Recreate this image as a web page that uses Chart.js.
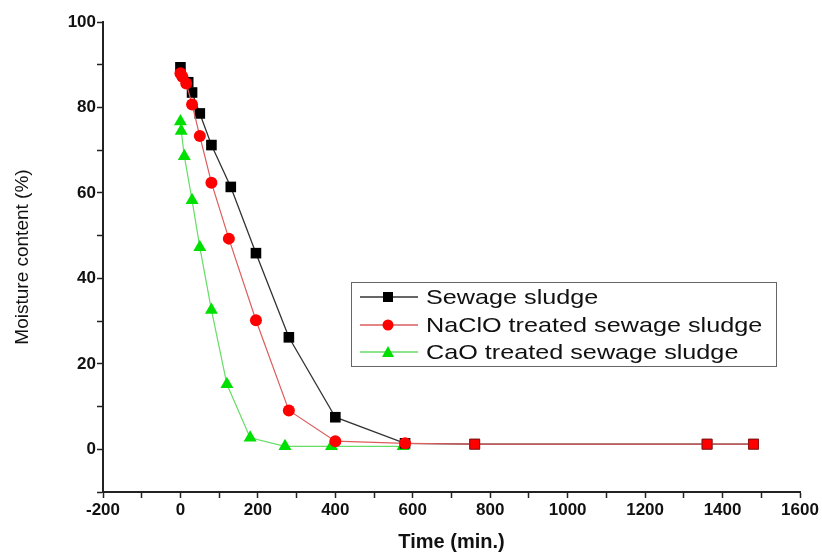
<!DOCTYPE html>
<html>
<head>
<meta charset="utf-8">
<script src="https://cdn.jsdelivr.net/npm/chart.js@4.4.1/dist/chart.umd.min.js"></script>
<style>
  body { margin: 0; background: #fff; }
  #wrap { position: relative; width: 822px; height: 554px; }
  #legend {
    position: absolute;
    left: 351px;
    top: 282px;
    width: 424px;
    height: 83px;
    border: 1.5px solid #666;
    font-family: "Liberation Sans", Arial, sans-serif;
    font-size: 21px;
    color: #111;
  }
  .row { position: absolute; left: 0; height: 26px; width: 100%; }
  .row svg { position: absolute; left: 4px; top: 0; }
  .row span {
    position: absolute;
    left: 74px;
    top: 0;
    line-height: 26px;
    white-space: nowrap;
    transform: scaleX(1.2);
    transform-origin: left center;
  }
</style>
</head>
<body>
<div id="wrap">
  <canvas id="canvas" width="822" height="554"></canvas>
  <div id="legend"></div>
</div>
<script>
// values
const seriesNames = ["Sewage sludge", "NaClO treated sewage sludge", "CaO treated sewage sludge"];

const sewageTime = [0, 20, 30, 50, 80, 130, 195, 280, 400, 580, 760, 1360, 1480];
const sewageMoisture = [89.4, 85.9, 83.5, 78.6, 71.2, 61.4, 45.9, 26.2, 7.5, 1.4, 1.2, 1.2, 1.2];

const naclTime = [0, 5, 15, 30, 50, 80, 125, 195, 280, 400, 580, 760, 1360, 1480];
const naclMoisture = [88.0, 87.2, 85.6, 80.7, 73.3, 62.4, 49.3, 30.2, 9.1, 1.9, 1.4, 1.2, 1.2, 1.2];

const caoTime = [0, 2, 10, 30, 50, 80, 120, 180, 270, 390, 575];
const caoMoisture = [76.7, 74.5, 68.6, 58.3, 47.3, 32.6, 15.2, 2.7, 0.7, 0.7, 0.7];

const xTicks = { min: -200, max: 1600, step: 100, labelEvery: 200 };
const yTicks = { min: -10, max: 100, step: 10, labelEvery: 20 };

const toPoints = (xs, ys) => xs.map((x, i) => ({ x: x, y: ys[i] }));

const styles = [
  { line: "#333333", fill: "#000000", shape: "rect", r: 7.5 },
  { line: "#dd5c5c", fill: "#ff0000", shape: "circle", r: 6 },
  { line: "#66dd66", fill: "#00e000", shape: "triangle", r: 7.5 },
];

const ctx = document.getElementById("canvas").getContext("2d");

new Chart(ctx, {
  type: "line",
  data: {
    datasets: [
      {
        label: seriesNames[0],
        data: toPoints(sewageTime, sewageMoisture),
        borderColor: styles[0].line,
        borderWidth: 1.3,
        pointStyle: "rect",
        pointRadius: styles[0].r,
        pointBackgroundColor: styles[0].fill,
        pointBorderColor: styles[0].fill,
        pointBorderWidth: 0,
        order: 1,
      },
      {
        label: seriesNames[1],
        data: toPoints(naclTime, naclMoisture),
        borderColor: styles[1].line,
        borderWidth: 1.2,
        // the overlapping end points show as red squares in the figure
        pointStyle: (c) => (c.dataIndex >= 11 ? "rect" : "circle"),
        pointRadius: (c) => (c.dataIndex >= 11 ? 7 : 6),
        pointBackgroundColor: styles[1].fill,
        pointBorderColor: (c) => (c.dataIndex >= 11 ? "#991111" : styles[1].fill),
        pointBorderWidth: (c) => (c.dataIndex >= 11 ? 1 : 0),
        order: 0,
      },
      {
        label: seriesNames[2],
        data: toPoints(caoTime, caoMoisture),
        borderColor: styles[2].line,
        borderWidth: 1.2,
        pointStyle: "triangle",
        pointRadius: styles[2].r,
        pointBackgroundColor: styles[2].fill,
        pointBorderColor: styles[2].fill,
        pointBorderWidth: 0,
        order: 2,
      },
    ],
  },
  options: {
    responsive: false,
    animation: false,
    devicePixelRatio: 1,
    layout: { padding: { top: 22, right: 22, left: 0, bottom: 0 } },
    plugins: {
      legend: { display: false },
      tooltip: { enabled: false },
    },
    elements: { line: { tension: 0 } },
    scales: {
      x: {
        type: "linear",
        min: xTicks.min,
        max: xTicks.max,
        afterFit: (scale) => { scale.height = 62; },
        ticks: {
          stepSize: xTicks.step,
          autoSkip: false,
          maxRotation: 0,
          padding: 2,
          color: "#111",
          font: { family: "Liberation Sans", size: 17, weight: "bold" },
          callback: (v) => (v % xTicks.labelEvery === 0 ? v : ""),
        },
        grid: {
          drawOnChartArea: false,
          tickLength: 6,
          tickWidth: 1.5,
          tickColor: "#222",
        },
        border: { display: true, color: "#222", width: 2 },
        title: {
          display: true,
          text: "Time (min.)",
          color: "#111",
          font: { family: "Liberation Sans", size: 20, weight: "bold" },
          padding: { top: 0, bottom: 0 },
        },
      },
      y: {
        min: yTicks.min,
        max: yTicks.max,
        afterFit: (scale) => { scale.width = 103; },
        ticks: {
          stepSize: yTicks.step,
          autoSkip: false,
          padding: 1,
          color: "#111",
          font: { family: "Liberation Sans", size: 17, weight: "bold" },
          callback: (v) => (v % yTicks.labelEvery === 0 ? v : ""),
        },
        grid: {
          drawOnChartArea: false,
          tickLength: 6,
          tickWidth: 1.5,
          tickColor: "#222",
        },
        border: { display: true, color: "#222", width: 2 },
        title: {
          display: true,
          text: "Moisture content (%)",
          color: "#111",
          font: { family: "Liberation Sans", size: 19 },
          padding: { top: 11, bottom: 0 },
        },
      },
    },
  },
});

// legend drawn as an html box inside the plot area, like the figure
const legendEl = document.getElementById("legend");
seriesNames.forEach((name, i) => {
  const s = styles[i];
  let marker = "";
  if (s.shape === "rect") {
    marker = '<rect x="27" y="8" width="10" height="10" fill="' + s.fill + '"/>';
  } else if (s.shape === "circle") {
    marker = '<circle cx="32" cy="13" r="5.5" fill="' + s.fill + '"/>';
  } else {
    marker = '<polygon points="32,7 38,18 26,18" fill="' + s.fill + '"/>';
  }
  const row = document.createElement("div");
  row.className = "row";
  row.style.top = 1 + i * 27.5 + "px";
  row.innerHTML =
    '<svg width="66" height="26"><line x1="4" y1="13" x2="62" y2="13" stroke="' +
    s.line + '" stroke-width="1.3"/>' + marker + "</svg><span>" + name + "</span>";
  legendEl.appendChild(row);
});
</script>
</body>
</html>
